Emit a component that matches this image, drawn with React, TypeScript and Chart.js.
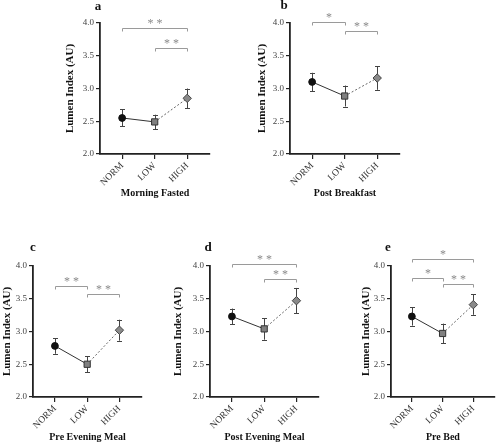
import React, { useEffect, useRef } from 'react';
import { Chart, registerables } from 'chart.js';

Chart.register(...registerables);

// ---------- data ----------
const categories = ['NORM', 'LOW', 'HIGH'];
const yAxisTitle = 'Lumen Index (AU)';
const yTickMin = 2.0;
const yTickMax = 4.0;
const yTickStep = 0.5;

const panelLetters = ['a', 'b', 'c', 'd', 'e'];
const panelTitles = ['Morning Fasted', 'Post Breakfast', 'Pre Evening Meal', 'Post Evening Meal', 'Pre Bed'];

const morningFastedMean = [2.55, 2.49, 2.85];
const morningFastedErr = [0.13, 0.11, 0.15];
const postBreakfastMean = [3.1, 2.885, 3.16];
const postBreakfastErr = [0.14, 0.16, 0.18];
const preEveningMealMean = [2.78, 2.5, 3.02];
const preEveningMealErr = [0.12, 0.12, 0.16];
const postEveningMealMean = [3.23, 3.04, 3.47];
const postEveningMealErr = [0.12, 0.165, 0.195];
const preBedMean = [3.23, 2.97, 3.41];
const preBedErr = [0.14, 0.15, 0.155];

// significance brackets: [fromIndex, toIndex, yValue, label]
const morningFastedSig: [number, number, number, string][] = [[0, 2, 3.92, '**'], [1, 2, 3.62, '**']];
const postBreakfastSig: [number, number, number, string][] = [[0, 1, 4.02, '*'], [1, 2, 3.88, '**']];
const preEveningMealSig: [number, number, number, string][] = [[0, 1, 3.69, '**'], [1, 2, 3.58, '**']];
const postEveningMealSig: [number, number, number, string][] = [[0, 2, 4.03, '**'], [1, 2, 3.8, '**']];
const preBedSig: [number, number, number, string][] = [[0, 2, 4.1, '*'], [0, 1, 3.82, '*'], [1, 2, 3.73, '**']];

const panelMeans = [morningFastedMean, postBreakfastMean, preEveningMealMean, postEveningMealMean, preBedMean];
const panelErrs = [morningFastedErr, postBreakfastErr, preEveningMealErr, postEveningMealErr, preBedErr];
const panelSigs = [morningFastedSig, postBreakfastSig, preEveningMealSig, postEveningMealSig, preBedSig];

// ---------- layout (page pixels) ----------
type Layout = {
  area: { l: number; t: number; r: number; b: number };
  yTitleX: number;
  xTitleY: number;
  letter: { x: number; y: number };
};
const layouts: Layout[] = [
  { area: { l: 100, t: 23, r: 210, b: 154 }, yTitleX: 70, xTitleY: 193, letter: { x: 98, y: 7 } },
  { area: { l: 290, t: 23, r: 400, b: 154 }, yTitleX: 262, xTitleY: 193, letter: { x: 284, y: 6 } },
  { area: { l: 33, t: 266, r: 142, b: 397 }, yTitleX: 7, xTitleY: 437, letter: { x: 33, y: 248 } },
  { area: { l: 210, t: 266, r: 319, b: 397 }, yTitleX: 178, xTitleY: 437, letter: { x: 208, y: 248 } },
  { area: { l: 391, t: 266, r: 499, b: 397 }, yTitleX: 366, xTitleY: 437, letter: { x: 388, y: 248 } },
];

const FONT = "'Liberation Serif', 'Times New Roman', serif";
const X_MIN = -0.68;
const X_MAX = 2.7;

function Panel({ idx }: { idx: number }) {
  const ref = useRef<HTMLCanvasElement | null>(null);
  const lay = layouts[idx];
  const canvasLeft = Math.max(0, Math.round(lay.yTitleX - 6.6 - 2));
  const titlePadTop = Math.max(0, lay.yTitleX - 6.6 - canvasLeft);
  const canvasTop = Math.max(0, lay.area.t - 26);
  const canvasRight = Math.min(500, lay.area.r + 6);
  const canvasBottom = Math.min(443, Math.round(lay.xTitleY + 7));
  const xTitlePadBottom = Math.max(0, canvasBottom - lay.xTitleY - 6);
  const w = canvasRight - canvasLeft;
  const h = canvasBottom - canvasTop;

  useEffect(() => {
    const canvas = ref.current;
    if (!canvas) return;
    const means = panelMeans[idx];
    const errs = panelErrs[idx];
    const sigs = panelSigs[idx];

    const annot = {
      id: 'annot' + idx,
      beforeDatasetsDraw(chart: any) {
        const ctx = chart.ctx;
        const xs = chart.scales.x;
        const ys = chart.scales.y;
        ctx.save();
        ctx.strokeStyle = '#444';
        ctx.lineWidth = 1;
        means.forEach((m, i) => {
          const x = Math.round(xs.getPixelForValue(i)) + 0.5;
          const y1 = ys.getPixelForValue(m + errs[i]);
          const y2 = ys.getPixelForValue(m - errs[i]);
          ctx.beginPath();
          ctx.moveTo(x, y1);
          ctx.lineTo(x, y2);
          ctx.moveTo(x - 2.5, Math.round(y1) + 0.5);
          ctx.lineTo(x + 2.5, Math.round(y1) + 0.5);
          ctx.moveTo(x - 2.5, Math.round(y2) + 0.5);
          ctx.lineTo(x + 2.5, Math.round(y2) + 0.5);
          ctx.stroke();
        });
        ctx.restore();
      },
      afterDraw(chart: any) {
        const ctx = chart.ctx;
        const xs = chart.scales.x;
        const ys = chart.scales.y;
        ctx.save();
        sigs.forEach(([a, b, v, label]) => {
          const x1 = Math.round(xs.getPixelForValue(a)) + 0.5;
          const x2 = Math.round(xs.getPixelForValue(b)) + 0.5;
          const y = Math.round(ys.getPixelForValue(v)) + 0.5;
          ctx.strokeStyle = '#9a9a9a';
          ctx.lineWidth = 1;
          ctx.beginPath();
          ctx.moveTo(x1, y + 3);
          ctx.lineTo(x1, y);
          ctx.lineTo(x2, y);
          ctx.lineTo(x2, y + 3);
          ctx.stroke();
          ctx.fillStyle = '#8a8a8a';
          ctx.font = `12px ${FONT}`;
          ctx.textAlign = 'center';
          ctx.textBaseline = 'alphabetic';
          ctx.fillText(label.split('').join(' '), (x1 + x2) / 2, y - 2);
        });
        ctx.fillStyle = '#111';
        ctx.font = `bold 13px ${FONT}`;
        ctx.textAlign = 'center';
        ctx.textBaseline = 'middle';
        ctx.fillText(panelLetters[idx], lay.letter.x - canvasLeft, lay.letter.y - canvasTop);
        ctx.restore();
      },
    };

    const chart = new Chart(canvas, {
      type: 'line',
      data: {
        datasets: [
          {
            data: means.map((m, i) => ({ x: i, y: m })),
            borderColor: '#333',
            borderWidth: 1,
            segment: {
              borderDash: (c: any) => (c.p0DataIndex === 1 ? [2, 2] : undefined),
              borderColor: (c: any) => (c.p0DataIndex === 1 ? '#666' : '#333'),
            },
            pointStyle: ['circle', 'rect', 'rectRot'] as any,
            pointRadius: [3.4, 4.4, 4.2],
            pointBackgroundColor: ['#111', '#808080', '#8a8a8a'],
            pointBorderColor: ['#111', '#333', '#444'],
            pointBorderWidth: 1,
            fill: false,
          } as any,
        ],
      },
      options: {
        animation: false,
        responsive: false,
        devicePixelRatio: 1,
        layout: {
          padding: { left: 0, top: lay.area.t - canvasTop, right: canvasRight - lay.area.r, bottom: 0 },
        },
        plugins: { legend: { display: false }, tooltip: { enabled: false }, title: { display: false } },
        scales: {
          x: {
            type: 'linear',
            min: X_MIN,
            max: X_MAX,
            afterBuildTicks: (s: any) => {
              s.ticks = categories.map((_, i) => ({ value: i }));
            },
            afterFit: (s: any) => {
              s.height = canvasBottom - lay.area.b;
            },
            ticks: {
              autoSkip: false,
              minRotation: 45,
              maxRotation: 45,
              padding: 1,
              color: '#333',
              font: { family: FONT, size: 9.5 },
              callback: (v: any) => categories[Math.round(Number(v))] ?? '',
            },
            grid: { display: true, drawOnChartArea: false, drawTicks: true, tickLength: 5, color: '#222', lineWidth: 1.2 },
            border: { display: true, color: '#222', width: 1.8 },
            title: {
              display: true,
              text: panelTitles[idx],
              color: '#111',
              font: { family: FONT, size: 10, weight: 'bold' },
              padding: { top: 0, bottom: xTitlePadBottom },
            },
          },
          y: {
            type: 'linear',
            min: yTickMin,
            max: yTickMax,
            afterFit: (s: any) => {
              s.width = lay.area.l - canvasLeft;
            },
            ticks: {
              stepSize: yTickStep,
              padding: 2,
              color: '#444',
              font: { family: FONT, size: 9 },
              callback: (v: any) => Number(v).toFixed(1),
            },
            grid: { display: true, drawOnChartArea: false, drawTicks: true, tickLength: 4, color: '#222', lineWidth: 1.2 },
            border: { display: true, color: '#222', width: 1.8 },
            title: {
              display: true,
              text: yAxisTitle,
              color: '#111',
              font: { family: FONT, size: 11, weight: 'bold' },
              padding: { top: titlePadTop, bottom: 0 },
            },
          },
        },
      } as any,
      plugins: [annot],
    });
    return () => chart.destroy();
  }, [idx]);

  return (
    <canvas
      ref={ref}
      width={w}
      height={h}
      style={{ position: 'absolute', left: canvasLeft, top: canvasTop, width: w, height: h }}
    />
  );
}

export default function App() {
  return (
    <div
      style={{
        position: 'fixed',
        left: 0,
        top: 0,
        width: 500,
        height: 443,
        background: '#fff',
        overflow: 'hidden',
      }}
    >
      {panelLetters.map((_, i) => (
        <Panel key={i} idx={i} />
      ))}
    </div>
  );
}
